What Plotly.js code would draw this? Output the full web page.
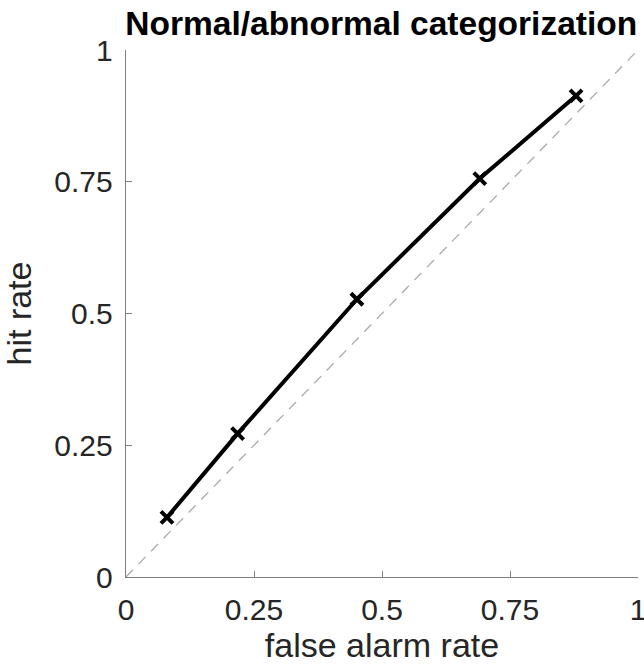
<!DOCTYPE html>
<html><head><meta charset="utf-8">
<script src="https://cdn.plot.ly/plotly-3.0.1.min.js"></script>
<style>html,body{margin:0;padding:0;background:#fff}</style>
</head><body>
<div id="chart" style="width:644px;height:670px"></div>
<script>
const falseAlarm = [0.08, 0.218, 0.451, 0.691, 0.879];
const hitRate = [0.113, 0.272, 0.527, 0.756, 0.913];
const chanceX = [0, 1];
const chanceY = [0, 1];
const tickVals = [0, 0.25, 0.5, 0.75, 1];
const tickText = ['0', '0.25', '0.5', '0.75', '1'];

const FONT = 'Liberation Sans, Arial, sans-serif';
const traces = [
  {x: chanceX, y: chanceY, mode: 'lines', line: {color: '#aaaaaa', width: 1.3, dash: '10px,8px'}, hoverinfo: 'skip', cliponaxis: false},
  {x: falseAlarm, y: hitRate, mode: 'lines+markers', line: {color: '#000', width: 4},
   marker: {symbol: 'x-thin-open', size: 12, color: '#000', line: {color: '#000', width: 4}}, cliponaxis: false}
];
const axisCommon = {
  range: [0, 1], tickvals: tickVals, ticktext: tickText, ticks: 'inside', ticklen: 6, tickwidth: 1,
  tickcolor: '#808080', showline: true, linecolor: '#808080', linewidth: 1.3, showgrid: false, zeroline: false,
  tickfont: {family: FONT, size: 30, color: '#262626'}, mirror: false, ticklabeloverflow: 'allow'
};
const layout = {
  width: 644, height: 670, showlegend: false,
  paper_bgcolor: '#fff', plot_bgcolor: '#fff',
  margin: {l: 126, r: 6, t: 50, b: 93},
  title: {text: '<b>Normal/abnormal categorization</b>', x: 0.592, xanchor: 'center', y: 0.966, yanchor: 'middle',
          font: {family: FONT, size: 33.5, color: '#000'}},
  xaxis: Object.assign({}, axisCommon, {ticklabelstandoff: 6, title: {text: 'false alarm rate', standoff: 6,
          font: {family: FONT, size: 34, color: '#262626'}}}),
  yaxis: Object.assign({}, axisCommon, {ticklabelstandoff: 6, title: {text: 'hit rate', standoff: 12,
          font: {family: FONT, size: 34, color: '#262626'}}})
};
Plotly.newPlot('chart', traces, layout, {displayModeBar: false, staticPlot: true});
</script>
</body></html>
